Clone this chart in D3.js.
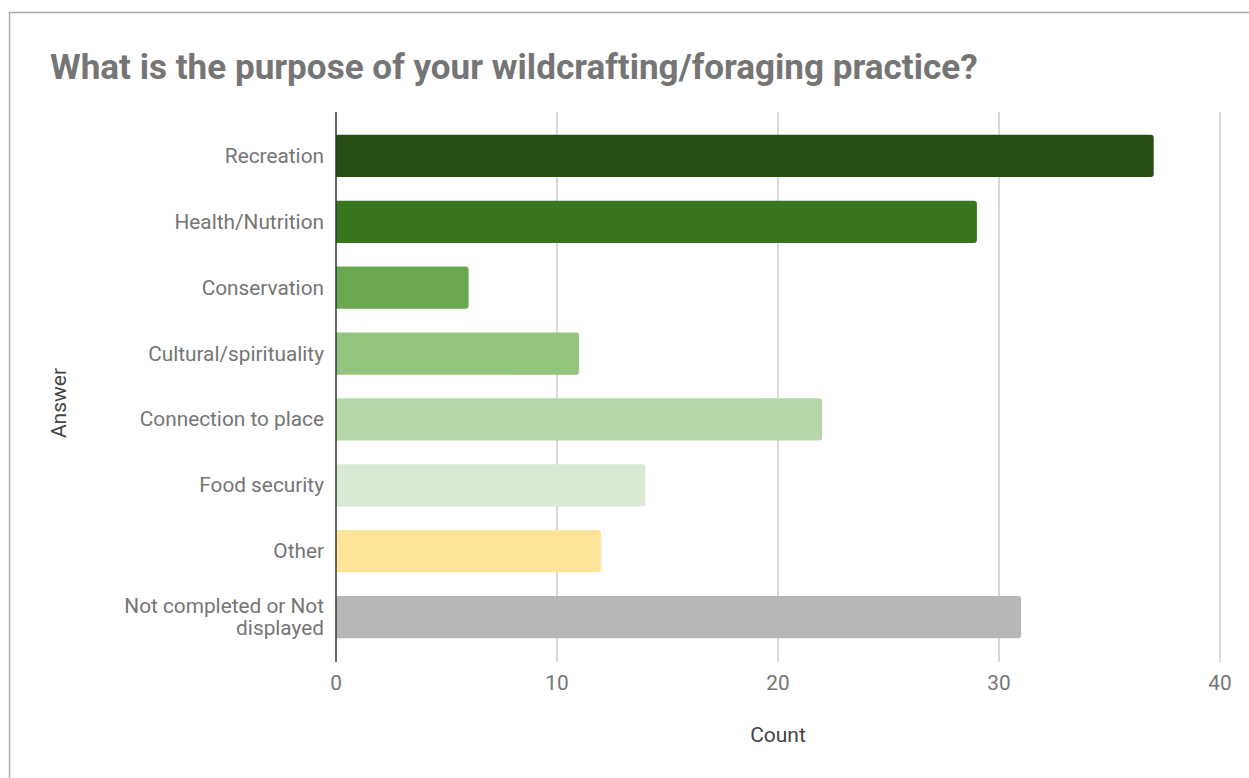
<!DOCTYPE html>
<html>
<head>
<meta charset="utf-8">
<script src="https://cdn.jsdelivr.net/npm/d3@7/dist/d3.min.js"></script>
<style>
  html, body { margin: 0; padding: 0; background: #fff; }
  svg { display: block; font-family: Roboto, "Noto Sans", sans-serif; }
</style>
</head>
<body>
<svg id="chart" width="1249" height="778"></svg>
<script>
// Survey answers and their counts
const categories = [
  "Recreation",
  "Health/Nutrition",
  "Conservation",
  "Cultural/spirituality",
  "Connection to place",
  "Food security",
  "Other",
  "Not completed or Not displayed"
];
const counts = [37, 29, 6, 11, 22, 14, 12, 31];
const barColors = ["#274e13", "#38761d", "#6aa84f", "#93c47d", "#b6d7a8", "#d9ead3", "#ffe599", "#b7b7b7"];
const xTicks = [0, 10, 20, 30, 40];

const svg = d3.select("#chart");
const labelSize = 20.8;

// Outer frame
svg.append("rect")
  .attr("x", 9.5).attr("y", 12.5)
  .attr("width", 1260).attr("height", 800)
  .attr("fill", "#fff").attr("stroke", "#aaa").attr("stroke-width", 1.5);

// Title
svg.append("text")
  .attr("x", 50).attr("y", 79)
  .attr("font-size", 35.1).attr("font-weight", "bold")
  .attr("fill", "#757575")
  .text("What is the purpose of your wildcrafting/foraging practice?");

const plot = { left: 336, right: 1220, top: 112, bottom: 662 };

const x = d3.scaleLinear().domain([0, 40]).range([plot.left, plot.right]);
const y = d3.scaleBand().domain(categories).range([123, 650]).paddingInner(0.36).paddingOuter(0.18);

// Vertical gridlines
svg.append("g").selectAll("line")
  .data(xTicks.filter(t => t !== 0))
  .join("line")
  .attr("x1", d => x(d)).attr("x2", d => x(d))
  .attr("y1", plot.top).attr("y2", plot.bottom)
  .attr("stroke", "#cccccc").attr("stroke-width", 1.5);

// Bars with rounded value end
const barPath = (d, i) => {
  const x0 = x(0), x1 = x(d), y0 = y(categories[i]), h = y.bandwidth(), r = 3;
  return `M${x0},${y0}H${x1 - r}Q${x1},${y0} ${x1},${y0 + r}V${y0 + h - r}Q${x1},${y0 + h} ${x1 - r},${y0 + h}H${x0}Z`;
};
svg.append("g").selectAll("path")
  .data(counts)
  .join("path")
  .attr("d", barPath)
  .attr("fill", (d, i) => barColors[i]);

// Zero baseline
svg.append("line")
  .attr("x1", x(0)).attr("x2", x(0))
  .attr("y1", plot.top).attr("y2", plot.bottom)
  .attr("stroke", "#333").attr("stroke-width", 1.5);

// X tick labels
svg.append("g").selectAll("text")
  .data(xTicks)
  .join("text")
  .attr("x", d => x(d)).attr("y", 690)
  .attr("text-anchor", "middle")
  .attr("font-size", labelSize).attr("fill", "#757575")
  .text(d => d);

// Category labels (wrapped)
const labelWidth = 230;
const catG = svg.append("g");
categories.forEach(c => {
  const words = c.split(" ");
  const lines = [];
  let cur = "";
  const probe = catG.append("text").attr("font-size", labelSize);
  words.forEach(w => {
    const test = cur ? cur + " " + w : w;
    probe.text(test);
    if (probe.node().getComputedTextLength() > labelWidth && cur) {
      lines.push(cur);
      cur = w;
    } else cur = test;
  });
  lines.push(cur);
  probe.remove();
  const cy = y(c) + y.bandwidth() / 2;
  const lh = 22;
  const t = catG.append("text")
    .attr("text-anchor", "end")
    .attr("font-size", labelSize).attr("fill", "#757575");
  lines.forEach((ln, k) => {
    t.append("tspan")
      .attr("x", 324)
      .attr("y", cy + 7 + (k - (lines.length - 1) / 2) * lh)
      .text(ln);
  });
});

// Axis titles
svg.append("text")
  .attr("x", (plot.left + plot.right) / 2).attr("y", 742)
  .attr("text-anchor", "middle")
  .attr("font-size", 21).attr("fill", "#444")
  .text("Count");

svg.append("text")
  .attr("transform", "translate(66,403) rotate(-90)")
  .attr("text-anchor", "middle")
  .attr("font-size", 21).attr("fill", "#444")
  .text("Answer");
</script>
</body>
</html>
